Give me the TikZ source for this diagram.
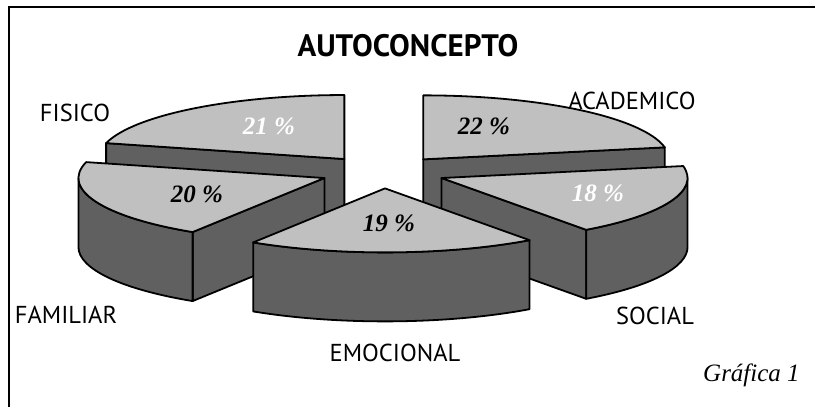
\documentclass[tikz,border=0pt]{standalone}
\usepackage{fontspec}
\usepackage{tikz}
\usetikzlibrary{calc}
\usepackage{color}
\newfontfamily\lblfont{PT Sans}
\newfontfamily\pctfont{Liberation Serif}
\definecolor{topgray}{RGB}{192,192,192}
\definecolor{sidegray}{RGB}{96,96,96}

\begin{document}
\begin{tikzpicture}[x=1pt,y=1pt,
  pietop/.style={fill=topgray,draw=black,line width=1.8pt,line join=round},
  pieside/.style={fill=sidegray,draw=black,line width=1.8pt,line join=round},
  lbl/.style={font=\lblfont\fontsize{24.5}{24}\selectfont,anchor=base,inner sep=0pt},
  pct/.style={font=\pctfont\bfseries\itshape\fontsize{25}{25}\selectfont,anchor=base,inner sep=0pt}]
\useasboundingbox (0,0) rectangle (815,407);
\fill[white] (0,0) rectangle (815,407);
\draw[line width=1.3pt] (9,-5) -- (9,400) -- (820,400);

% centres of the exploded slices
\coordinate (o) at (383,235);
\coordinate (fis) at ($(o)+(127.8:63 and 16.4)$);
\coordinate (aca) at ($(o)+(50.4:63 and 16.4)$);
\coordinate (fam) at ($(o)+(201.6:63 and 16.4)$);
\coordinate (soc) at ($(o)+(-21.6:63 and 16.4)$);
\coordinate (emo) at ($(o)+(-88.2:63 and 16.4)$);

% FISICO
\begin{scope}[shift={(fis)}]
  \draw[pieside] (0,0) -- (165.6:246 and 64) -- ++(0,-69) -- (0,-69) -- cycle;
  \draw[pietop] (0,0) -- (90:246 and 64) arc[start angle=90,end angle=165.6,x radius=246,y radius=64] -- cycle;
\end{scope}
% ACADEMICO
\begin{scope}[shift={(aca)}]
  \draw[pieside] (0,0) -- (10.8:246 and 64) -- ++(0,-69) -- (0,-69) -- cycle;
  \draw[pietop] (0,0) -- (10.8:246 and 64) arc[start angle=10.8,end angle=90,x radius=246,y radius=64] -- cycle;
\end{scope}
% FAMILIAR
\begin{scope}[shift={(fam)}]
  \draw[pieside] (0,0) -- (237.6:246 and 64) -- ++(0,-69) -- (0,-69) -- cycle;
  \draw[pieside] (180:246 and 64) arc[start angle=180,end angle=237.6,x radius=246,y radius=64]
    -- ++(0,-69) arc[start angle=237.6,end angle=180,x radius=246,y radius=64] -- cycle;
  \draw[pietop] (0,0) -- (165.6:246 and 64) arc[start angle=165.6,end angle=237.6,x radius=246,y radius=64] -- cycle;
\end{scope}
% SOCIAL
\begin{scope}[shift={(soc)}]
  \draw[pieside] (0,0) -- (-54:246 and 64) -- ++(0,-69) -- (0,-69) -- cycle;
  \draw[pieside] (-54:246 and 64) arc[start angle=-54,end angle=0,x radius=246,y radius=64]
    -- ++(0,-69) arc[start angle=0,end angle=-54,x radius=246,y radius=64] -- cycle;
  \draw[pietop] (0,0) -- (-54:246 and 64) arc[start angle=-54,end angle=10.8,x radius=246,y radius=64] -- cycle;
\end{scope}
% EMOCIONAL
\begin{scope}[shift={(emo)}]
  \draw[pieside] (-122.4:246 and 64) arc[start angle=-122.4,end angle=-54,x radius=246,y radius=64]
    -- ++(0,-69) arc[start angle=-54,end angle=-122.4,x radius=246,y radius=64] -- cycle;
  \draw[pietop] (0,0) -- (-122.4:246 and 64) arc[start angle=-122.4,end angle=-54,x radius=246,y radius=64] -- cycle;
\end{scope}

% percentages
\node[pct,white] (pfis) at (269,272) {21 \%};
\node[pct] (paca) at (484,272) {22 \%};
\node[pct,white] (psoc) at (598,205) {18 \%};
\node[pct] (pfam) at (197,204) {20 \%};
\node[pct] (pemo) at (389,175) {19 \%};

% labels
\node[lbl,font=\lblfont\bfseries\fontsize{31}{31}\selectfont] (title) at (408,350) {AUTOCONCEPTO};
\node[lbl] (fisico) at (75,285) {FISICO};
\node[lbl] (academico) at (632,297) {ACADEMICO};
\node[lbl] (familiar) at (66,83) {FAMILIAR};
\node[lbl] (emocional) at (395,45) {EMOCIONAL};
\node[lbl] (social) at (655,82) {SOCIAL};
\node[anchor=base west,inner sep=0pt,font=\pctfont\itshape\fontsize{25}{25}\selectfont] (graf) at (703,25) {Gráfica 1};
\end{tikzpicture}
\end{document}
